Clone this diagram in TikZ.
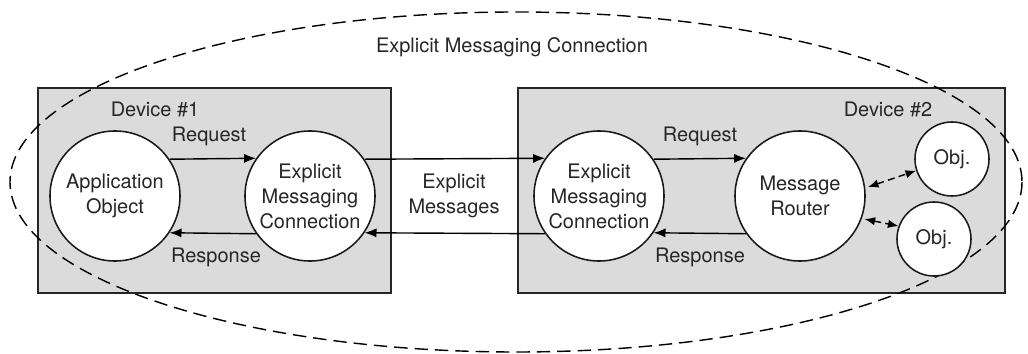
\documentclass[tikz,border=0pt]{standalone}
\usepackage{fontspec}
\setmainfont{TeX Gyre Heros}
\usetikzlibrary{arrows.meta}

\begin{document}
\begin{tikzpicture}[x=0.025cm,y=-0.025cm,
	font=\fontsize{14.2pt}{17.8pt}\selectfont,text=black!85,
	devbox/.style={draw=black!85,line width=1.4pt,fill=black!14},
	bigobj/.style={circle,draw=black!90,line width=1.1pt,fill=white,minimum size=3.25cm,inner sep=0pt,align=center},
	smallobj/.style={bigobj,minimum size=1.85cm},
	msgarrow/.style={-{Latex[length=8.5pt,width=6.5pt]},line width=1pt},
	linkarrow/.style={{Latex[length=7.5pt,width=6pt]}-{Latex[length=7.5pt,width=6pt]},dash pattern=on 5pt off 3pt,line width=1pt},
	scopeline/.style={dash pattern=on 9.5pt off 5pt,line width=1pt}]
	\useasboundingbox (0,0) rectangle (1028,354);

	% the two devices
	\draw[devbox] (38,88) rectangle (391,293);
	\draw[devbox] (518,88) rectangle (1005,293);
	\draw[scopeline] (516,182) ellipse [x radius=506,y radius=170];

	\node (title) at (512,47) {Explicit Messaging Connection};
	\node (dev1) at (155,109) {Device \#1};
	\node (dev2) at (888,109) {Device \#2};

	\node[bigobj] (app) at (115,196) {Application\\Object};
	\node[bigobj] (emc1) at (310,196) {Explicit\\Messaging\\Connection};
	\node[bigobj] (emc2) at (599,196) {Explicit\\Messaging\\Connection};
	\node[bigobj] (router) at (800,196) {Message\\Router};
	\node[smallobj] (obj1) at (952,159) {Obj.};
	\node[smallobj] (obj2) at (934,239) {Obj.};

	% request / response pairs
	\foreach \a/\b in {app/emc1,emc1/emc2,emc2/router}
		\draw[msgarrow] (\a.34.7) -- (\b.145.3) ;
	\foreach \a/\b in {emc1/app,emc2/emc1,router/emc2}
		\draw[msgarrow] (\a.-145.3) -- (\b.-34.7) ;

	\node (req1) at (209,136) {Request};
	\node (resp1) at (216,257) {Response};
	\node (req2) at (700,136) {Request};
	\node (resp2) at (700,257) {Response};
	\node[align=center] (expl) at (454,196) {Explicit\\Messages};

	\draw[linkarrow,shorten <=2pt] (router.7) -- (obj1.198);
	\draw[linkarrow,shorten <=2pt] (router.-20) -- (obj2.160);
\end{tikzpicture}
\end{document}
